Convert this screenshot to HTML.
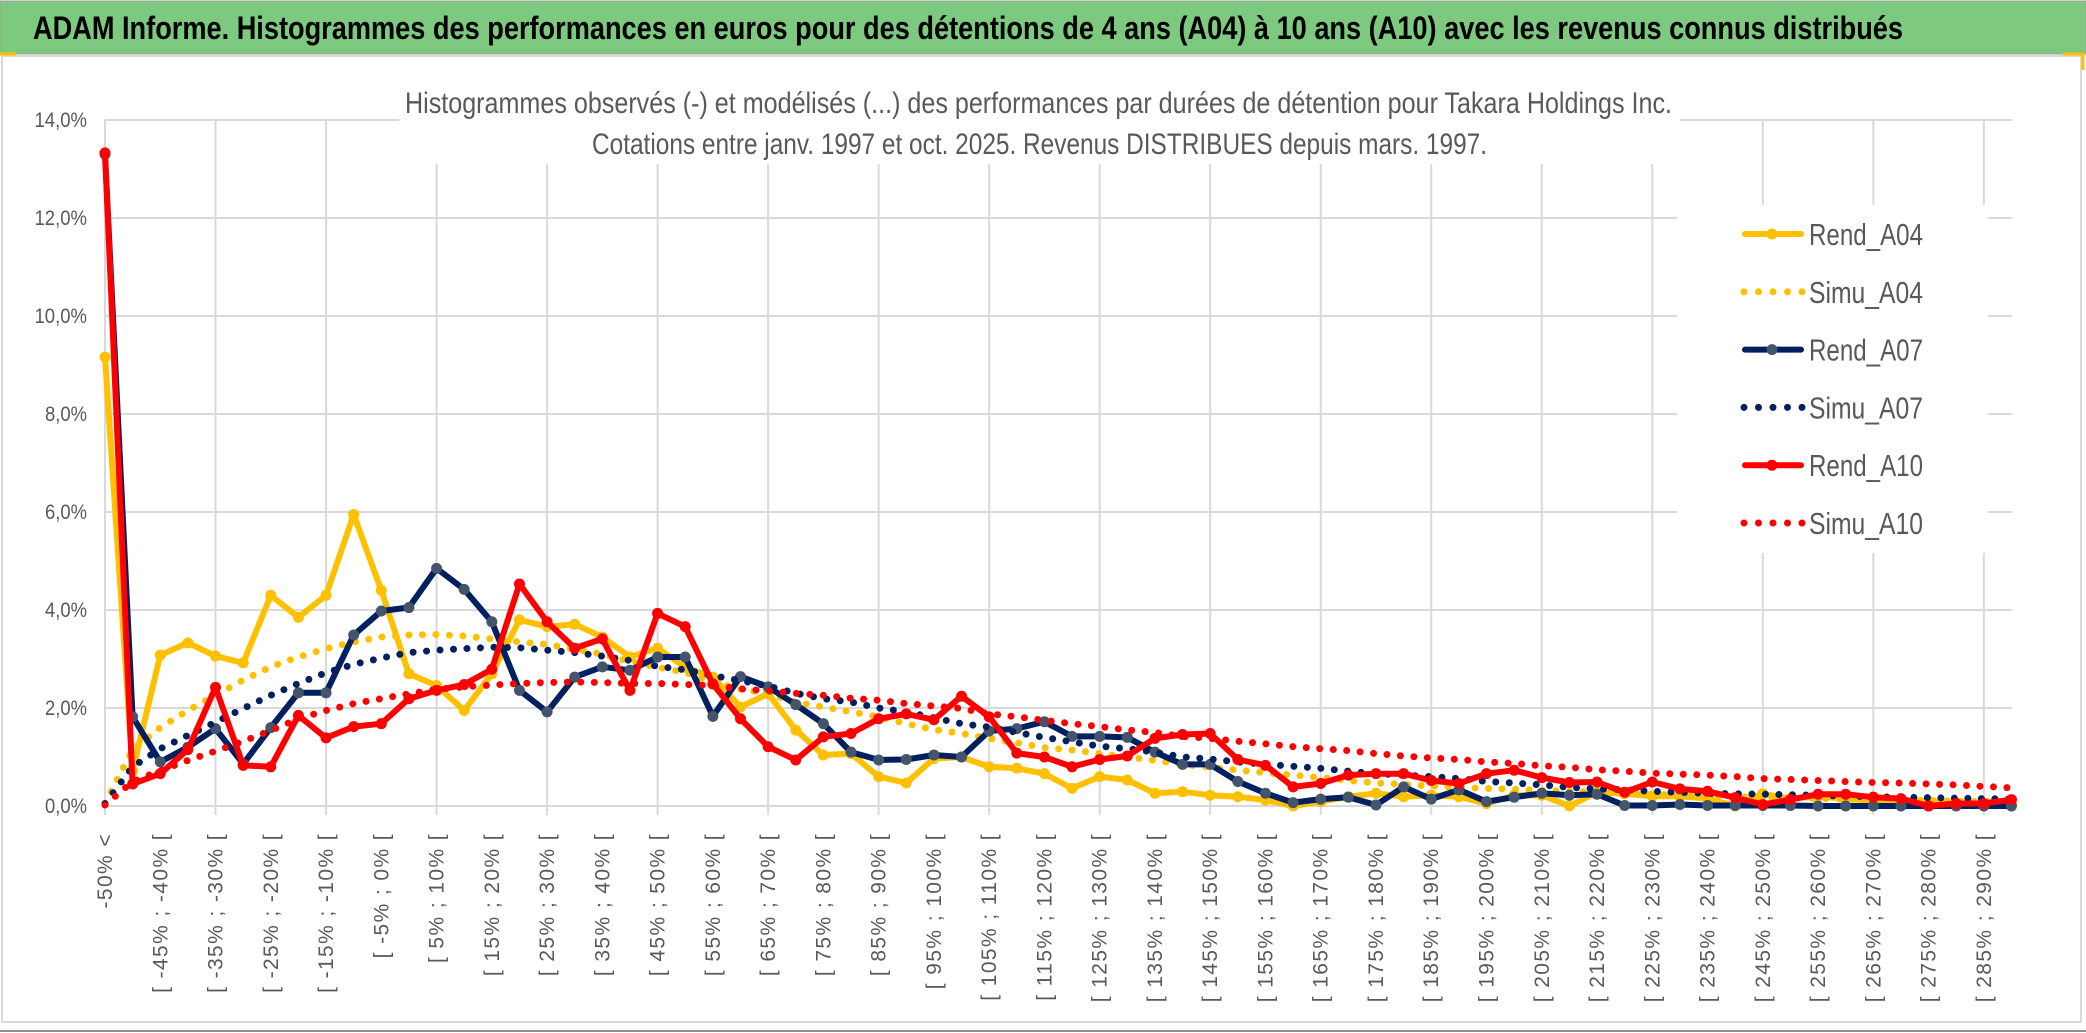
<!DOCTYPE html>
<html><head><meta charset="utf-8"><style>
html,body{margin:0;padding:0;background:#fff;width:2086px;height:1033px;overflow:hidden}
svg{display:block}
text{font-family:"Liberation Sans",sans-serif}
</style></head><body>
<svg id="chart" width="2086" height="1033" viewBox="0 0 2086 1033" xmlns="http://www.w3.org/2000/svg">
<rect x="0" y="0" width="2086" height="1033" fill="#fff"/>
<rect x="0" y="1" width="2086" height="53" fill="#7dc97f" stroke="#a0a0a0" stroke-width="1"/>
<text x="33" y="39" font-size="32" font-weight="bold" fill="#000" textLength="1870" lengthAdjust="spacingAndGlyphs">ADAM Informe. Histogrammes des performances en euros pour des détentions de 4 ans (A04) à 10 ans (A10) avec les revenus connus distribués</text>
<rect x="2" y="56" width="2079" height="966" fill="none" stroke="#d9d9d9" stroke-width="2"/>
<line x1="0" y1="1031" x2="2086" y2="1031" stroke="#909090" stroke-width="2"/>
<line x1="0" y1="54" x2="16" y2="54" stroke="#ffc000" stroke-width="3"/>
<path d="M2063 54 H2083 V70" fill="none" stroke="#ffc000" stroke-width="3"/>
<g id="grid"></g>
<rect x="399" y="78" width="1281" height="86" fill="#fff"/>
<text x="405" y="113" font-size="30" fill="#595959" textLength="1267" lengthAdjust="spacingAndGlyphs">Histogrammes observés (-) et modélisés (...) des performances par durées de détention pour Takara Holdings Inc.</text>
<text x="592" y="154" font-size="30" fill="#595959" textLength="895" lengthAdjust="spacingAndGlyphs">Cotations entre janv. 1997 et oct. 2025. Revenus DISTRIBUES depuis mars. 1997.</text>
<g id="yaxis"></g>
<g id="xaxis"></g>
<g id="series"></g>
<g id="legend"></g>
</svg>
<script>
const categories = (function(){ const c=["-50% <"]; for(let k=1;k<70;k++){const a=-50+5*(k-1);c.push("[ "+a+"% ; "+(a+5)+"% [");} return c; })();
const yTickValues = [0,2,4,6,8,10,12,14];
const yTickLabels = ["0,0%","2,0%","4,0%","6,0%","8,0%","10,0%","12,0%","14,0%"];
const rendA04 = [9.16,0.72,3.08,3.33,3.06,2.92,4.3,3.85,4.3,5.95,4.4,2.7,2.46,1.95,2.7,3.8,3.66,3.71,3.45,3.04,3.22,2.83,2.63,2.02,2.29,1.55,1.04,1.07,0.6,0.47,0.97,1.0,0.8,0.77,0.66,0.36,0.6,0.53,0.26,0.29,0.22,0.19,0.12,0.0,0.09,0.19,0.26,0.19,0.22,0.19,0.05,0.22,0.22,0.0,0.28,0.25,0.2,0.2,0.15,0.0,0.25,0.15,0.2,0.15,0.1,0.1,0.1,0.05,0.05,0.05];
const simuA04 = [0.05,1.15,1.6,1.95,2.26,2.57,2.84,3.04,3.21,3.35,3.45,3.49,3.5,3.47,3.41,3.35,3.3,3.2,3.1,2.95,2.83,2.73,2.53,2.39,2.29,2.12,2.02,1.92,1.82,1.68,1.56,1.48,1.38,1.29,1.19,1.14,1.07,1.0,0.93,0.85,0.79,0.73,0.68,0.63,0.58,0.52,0.47,0.44,0.41,0.38,0.36,0.34,0.32,0.3,0.28,0.26,0.24,0.22,0.2,0.19,0.18,0.16,0.15,0.14,0.13,0.12,0.11,0.1,0.09,0.08];
const rendA07 = [13.3,1.82,0.9,1.2,1.58,0.86,1.6,2.31,2.31,3.49,3.98,4.05,4.85,4.42,3.76,2.36,1.92,2.63,2.84,2.77,3.04,3.04,1.83,2.64,2.43,2.07,1.68,1.1,0.94,0.95,1.04,1.0,1.53,1.58,1.72,1.42,1.42,1.4,1.1,0.85,0.85,0.5,0.26,0.07,0.14,0.18,0.02,0.39,0.14,0.33,0.09,0.18,0.26,0.22,0.24,0.01,0.01,0.03,0.01,0.01,0.01,0.01,0.0,0.0,0.0,0.0,0.0,0.0,0.0,0.0];
const simuA07 = [0.05,0.8,1.17,1.44,1.71,1.99,2.26,2.5,2.72,2.89,3.02,3.13,3.18,3.21,3.24,3.23,3.18,3.13,3.06,2.97,2.85,2.78,2.66,2.56,2.45,2.3,2.19,2.12,2.0,1.92,1.8,1.68,1.61,1.5,1.4,1.31,1.22,1.17,1.1,1.0,0.96,0.9,0.85,0.81,0.77,0.71,0.66,0.63,0.6,0.56,0.5,0.47,0.43,0.38,0.35,0.33,0.3,0.28,0.26,0.25,0.24,0.23,0.22,0.2,0.19,0.18,0.17,0.16,0.15,0.14];
const rendA10 = [13.33,0.45,0.66,1.15,2.42,0.83,0.8,1.85,1.39,1.62,1.68,2.19,2.36,2.48,2.79,4.53,3.76,3.22,3.41,2.36,3.93,3.66,2.49,1.78,1.21,0.94,1.41,1.48,1.78,1.88,1.76,2.24,1.82,1.08,1.0,0.8,0.95,1.02,1.38,1.46,1.48,0.95,0.83,0.39,0.46,0.63,0.66,0.66,0.52,0.46,0.66,0.73,0.58,0.48,0.49,0.28,0.49,0.35,0.3,0.17,0.03,0.13,0.24,0.24,0.18,0.15,0.0,0.05,0.05,0.13];
const simuA10 = [0.02,0.5,0.72,0.93,1.12,1.32,1.54,1.78,1.95,2.09,2.19,2.29,2.38,2.43,2.47,2.5,2.52,2.53,2.52,2.5,2.5,2.48,2.46,2.39,2.35,2.3,2.26,2.2,2.16,2.09,2.04,1.99,1.88,1.82,1.75,1.68,1.62,1.55,1.5,1.42,1.38,1.32,1.27,1.21,1.17,1.13,1.07,1.02,0.98,0.95,0.9,0.87,0.82,0.79,0.74,0.71,0.67,0.65,0.63,0.6,0.56,0.54,0.52,0.5,0.48,0.47,0.45,0.43,0.4,0.37];

const NS="http://www.w3.org/2000/svg";
const X0=105, XSTEP=27.63, Y0=806, YSCALE=49, XRIGHT=2012;
function xs(i){return X0+i*XSTEP;}
function ys(v){return Y0-v*YSCALE;}
function mk(tag,attrs,parent){const e=document.createElementNS(NS,tag);for(const k in attrs)e.setAttribute(k,attrs[k]);parent.appendChild(e);return e;}

const grid=document.getElementById('grid');
yTickValues.forEach(function(v){
  const l=mk('line',{x1:X0,x2:XRIGHT,y1:ys(v),y2:ys(v),stroke:'#d9d9d9','stroke-width':2},grid);
  
  
});
for(let i=0;i<categories.length;i+=4){
  const l=mk('line',{x1:xs(i),x2:xs(i),y1:ys(14),y2:Y0+9,stroke:'#d9d9d9','stroke-width':2},grid);
  
  
}

const yaxis=document.getElementById('yaxis');
yTickValues.forEach(function(v,k){
  const t=mk('text',{x:87,y:ys(v)+7,'font-size':21,fill:'#595959','text-anchor':'end',textLength:(yTickLabels[k].length*10.5),lengthAdjust:'spacingAndGlyphs'},yaxis);
  t.textContent=yTickLabels[k];
  
  
});

const xaxis=document.getElementById('xaxis');
for(let i=0;i<categories.length;i+=2){
  const x=xs(i)+7, y=833;
  const t=mk('text',{x:x,y:y,'font-size':21,fill:'#595959','text-anchor':'end','letter-spacing':'1.4',transform:'rotate(-90 '+x+' '+y+')'},xaxis);
  t.textContent=categories[i];
  
  
}

const seriesG=document.getElementById('series');
function pts(arr){return arr.map(function(v,i){return xs(i).toFixed(1)+','+ys(v).toFixed(1);}).join(' ');}
function drawRend(arr,color,marker,name){
  const g=mk('g',{},seriesG);
  
  
  const pl=mk('polyline',{points:pts(arr),fill:'none',stroke:color,'stroke-width':6,'stroke-linejoin':'round','stroke-linecap':'round'},g);
  
  
  arr.forEach(function(v,i){
    const c=mk('circle',{cx:xs(i),cy:ys(v),r:5.5,fill:marker},g);
    
    
  });
}
function drawSimu(arr,color,name){
  const pl=mk('polyline',{points:pts(arr),fill:'none',stroke:color,'stroke-width':7,'stroke-linecap':'round','stroke-dasharray':'0 13.5'},seriesG);
  
  
}
drawRend(rendA04,'#ffc000','#ffc000','rend-a04');
drawSimu(simuA04,'#ffc000','simu-a04');
drawRend(rendA07,'#002060','#44546a','rend-a07');
drawSimu(simuA07,'#002060','simu-a07');
drawRend(rendA10,'#ff0000','#ff0000','rend-a10');
drawSimu(simuA10,'#ff0000','simu-a10');

const leg=document.getElementById('legend');
const lb=mk('rect',{x:1677,y:205,width:311,height:348,fill:'#fff'},leg);


const legendNames=['Rend_A04','Simu_A04','Rend_A07','Simu_A07','Rend_A10','Simu_A10'];
const legendColors=['#ffc000','#ffc000','#002060','#002060','#ff0000','#ff0000'];
const legendMarkers=['#ffc000',null,'#44546a',null,'#ff0000',null];
legendNames.forEach(function(n,k){
  const cy=234+k*57.8;
  const g=mk('g',{},leg);
  
  
  if(legendMarkers[k]){
    mk('line',{x1:1745,x2:1801,y1:cy,y2:cy,stroke:legendColors[k],'stroke-width':6,'stroke-linecap':'round'},g);
    mk('circle',{cx:1772,cy:cy,r:5.5,fill:legendMarkers[k]},g);
  } else {
    mk('line',{x1:1744,x2:1803,y1:cy,y2:cy,stroke:legendColors[k],'stroke-width':7,'stroke-linecap':'round','stroke-dasharray':'0 14.5'},g);
  }
  const t=mk('text',{x:1809,y:cy+11,'font-size':31,fill:'#595959',textLength:114,lengthAdjust:'spacingAndGlyphs'},g);
  t.textContent=n;
});
</script>
</body></html>
